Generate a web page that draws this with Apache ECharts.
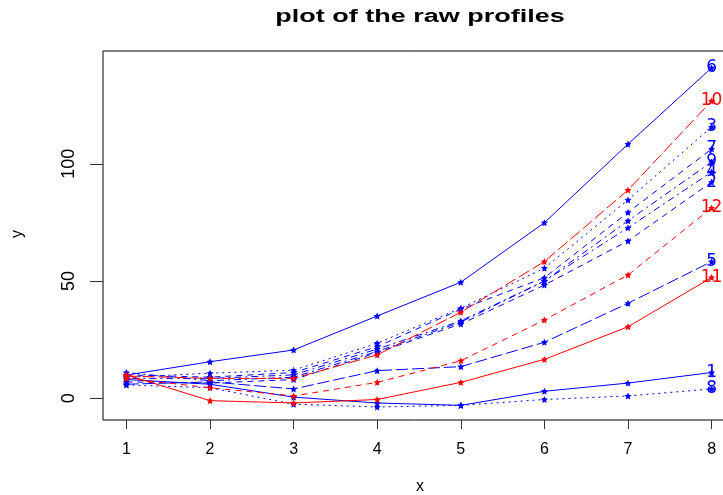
<!DOCTYPE html>
<html>
<head>
<meta charset="utf-8">
<script src="https://cdn.jsdelivr.net/npm/echarts@6/dist/echarts.min.js"></script>
<style>html,body{margin:0;padding:0;background:#fff}#c{width:723px;height:495px}</style>
</head>
<body>
<div id="c"></div>
<script>
const xs = [1, 2, 3, 4, 5, 6, 7, 8];
const xTicks = [1, 2, 3, 4, 5, 6, 7, 8];
const yTicks = [0, 50, 100];
const profileNames = ['1','2','3','4','5','6','7','8','9','10','11','12'];
const groups = [1,1,1,1,1,1,1,1,1,2,2,2];
const p1  = [8, 6, 0.5, -2, -3, 3, 6.5, 11];
const p2  = [7, 6.5, 8, 19.5, 31.7, 48.3, 67.1, 92.2];
const p3  = [9, 10.7, 12, 23.5, 38.4, 55.5, 84.6, 115.7];
const p4  = [11, 7.5, 9, 20, 32.5, 50, 72.7, 96.5];
const p5  = [6, 7, 4, 11.8, 13.5, 23.9, 40.5, 58.3];
const p6  = [9.9, 15.6, 20.6, 35.1, 49.5, 74.9, 108.4, 140.9];
const p7  = [10, 9, 11, 22, 38, 51.4, 79.3, 106.3];
const p8  = [5.7, 4.5, -2.5, -3.7, -3, -0.5, 1, 4];
const p9  = [8.5, 8.5, 10, 21, 33, 50, 75.7, 100.8];
const p10 = [9.5, 8.5, 8.5, 18.5, 36.7, 58.3, 88.8, 126.8];
const p11 = [10, -1, -2, -0.5, 6.8, 16.6, 30.5, 51.5];
const p12 = [8.5, 4.5, 1, 6.8, 16, 33.4, 52.6, 81.2];
const profiles = [p1,p2,p3,p4,p5,p6,p7,p8,p9,p10,p11,p12];

const groupColors = {1: '#0000ff', 2: '#ff0000'};
const ltys = ['solid', [6,5], [2,4], [2,4,7,4], [12,4]];
const star = 'path://M0,-10 L2.9,-4 9.5,-3.1 4.7,1.5 5.9,8.1 0,5 -5.9,8.1 -4.7,1.5 -9.5,-3.1 -2.9,-4Z';
const font = '"Liberation Sans", Arial, sans-serif';
const wideFont = '"DejaVu Sans", sans-serif';

const series = profiles.map((p, i) => {
  const col = groupColors[groups[i]];
  return {
    type: 'line',
    name: profileNames[i],
    symbol: star,
    symbolSize: 7,
    animation: false,
    z: 2,
    lineStyle: {color: col, width: 1, type: ltys[i % 5]},
    itemStyle: {color: col},
    data: p.map((v, j) => j === p.length - 1
      ? {value: [xs[j], v], label: {show: true, position: 'inside', formatter: profileNames[i], color: col, fontSize: 17, fontFamily: wideFont}}
      : [xs[j], v])
  };
});

const chart = echarts.init(document.getElementById('c'));
chart.setOption({
  animation: false,
  backgroundColor: '#fff',
  grid: {left: 103, top: 51, width: 632, height: 369, show: true, borderColor: '#000', borderWidth: 1,
         backgroundColor: 'transparent', containLabel: false, outerBoundsMode: 'none'},
  xAxis: {
    type: 'value', min: 0.72, max: 8.28,
    splitLine: {show: false},
    axisLine: {show: false, onZero: false},
    axisTick: {show: true, length: 9, lineStyle: {color: '#333'}, customValues: xTicks},
    axisLabel: {customValues: xTicks, margin: 22, fontSize: 16, color: '#000', fontFamily: font}
  },
  yAxis: {
    type: 'value', min: -9.25, max: 148.1,
    splitLine: {show: false},
    axisLine: {show: false, onZero: false},
    axisTick: {show: true, length: 13, lineStyle: {color: '#333'}, customValues: yTicks},
    axisLabel: {customValues: yTicks, rotate: 90, margin: 25, fontSize: 18, color: '#000', fontFamily: font}
  },
  graphic: [
    {type: 'text', x: 420, y: 17, scaleX: 1.5, style: {text: 'plot of the raw profiles', font: 'bold 18px ' + font, fill: '#000', align: 'center', verticalAlign: 'middle'}},
    {type: 'text', x: 420, y: 487, style: {text: 'x', font: '16px ' + font, fill: '#000', align: 'center', verticalAlign: 'middle'}},
    {type: 'text', x: 18, y: 234, rotation: Math.PI / 2, style: {text: 'y', font: '16px ' + font, fill: '#000', align: 'center', verticalAlign: 'middle'}}
  ],
  series: series
});
</script>
</body>
</html>
